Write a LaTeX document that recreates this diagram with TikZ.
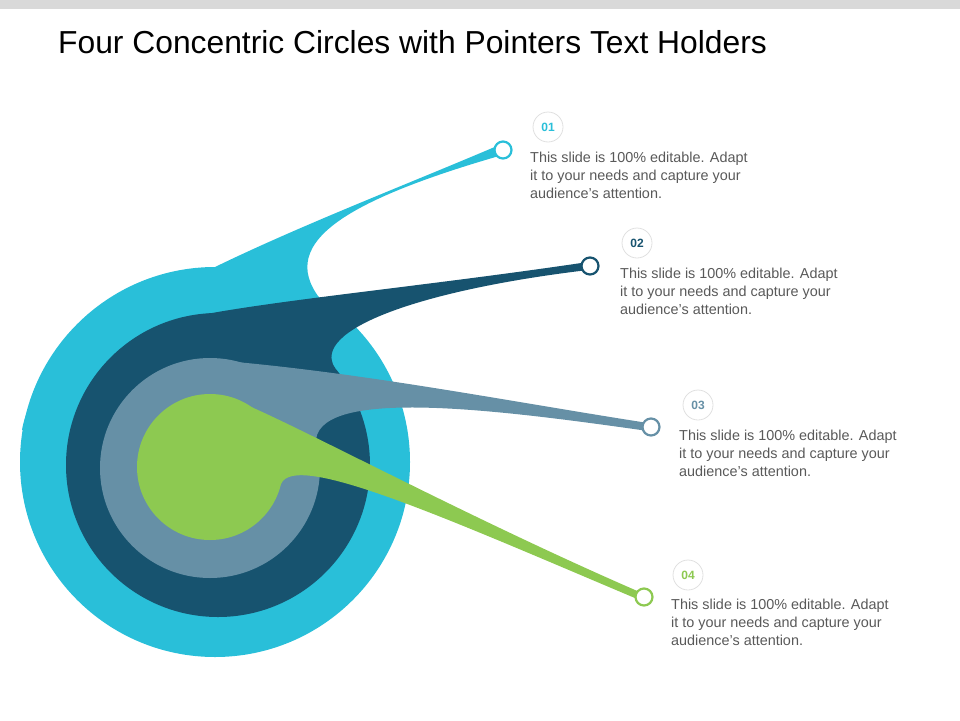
\documentclass[tikz,border=0pt]{standalone}
\usepackage{fontspec}
\setmainfont{Liberation Sans}
\definecolor{cyanA}{HTML}{29BFD9}
\definecolor{navyB}{HTML}{17536F}
\definecolor{slateC}{HTML}{6690A6}
\definecolor{greenD}{HTML}{8DC951}
\definecolor{txtgray}{HTML}{595959}
\tikzset{
  tipdot/.style={circle, draw=#1, line width=2.2pt, fill=white, inner sep=0pt, minimum size=17pt},
  numbadge/.style={circle, draw=black!12, line width=0.8pt, fill=white, inner sep=0pt, minimum size=30pt,
    text=#1, font=\fontsize{12}{12}\selectfont\bfseries},
  blurb/.style={anchor=north west, align=left, text=txtgray, inner sep=0pt,
    font=\fontsize{14.4}{18}\selectfont}
}
\begin{document}
\begin{tikzpicture}[x=1pt,y=-1pt]
        \useasboundingbox (0,0) rectangle (960,720);
        % Barra superior y titulo
        \fill[black!15] (0,0) rectangle (960,9);
        \node[anchor=west, inner sep=0pt, font=\fontsize{31.8}{32}\selectfont] (title) at (58,42)
          {Four Concentric Circles with Pointers Text Holders};

        % Circulo exterior
        \fill[cyanA] (215,462) circle (195);
        \fill[cyanA] (22,430) .. controls (40,320) and (300,230) .. (497,146)
          -- (499,156) .. controls (330,205) and (270,250) .. (330,310) -- (360,340) -- (215,462) -- cycle;

        % Circulo 2
        \fill[navyB] (218,465) circle (152);
        \fill[navyB] (160,325) .. controls (220,305) and (400,290) .. (588,262)
          -- (588,270) .. controls (420,290) and (310,330) .. (335,368) -- (218,465) -- cycle;

        % Circulo 3
        \fill[slateC] (210,468) circle (110);
        \fill[slateC] (200,359) .. controls (350,370) and (500,400) .. (648,423)
          -- (648,431) .. controls (500,410) and (310,385) .. (316,445) -- (210,468) -- cycle;

        % Circulo 4
        \fill[greenD] (210,467) circle (73);
        \fill[greenD] (225,397) .. controls (260,405) and (450,510) .. (642,593)
          -- (642,601) .. controls (450,520) and (295,450) .. (281,484) -- (210,467) -- cycle;

        % Puntos finales
        \node[tipdot=cyanA] (p1) at (503,150) {};
        \node[tipdot=navyB] (p2) at (590,266) {};
        \node[tipdot=slateC] (p3) at (651,427) {};
        \node[tipdot=greenD] (p4) at (644,597) {};

        % Numeros
        \node[numbadge=cyanA] (n1) at (548,127) {01};
        \node[numbadge=navyB] (n2) at (637,243) {02};
        \node[numbadge=slateC] (n3) at (698,405) {03};
        \node[numbadge=greenD] (n4) at (688,575) {04};

        % Textos
        \node[blurb] (t1) at (530,152) {This slide is 100\% editable. Adapt\\it to your needs and capture your\\audience's attention.};
        \node[blurb] (t2) at (620,268) {This slide is 100\% editable. Adapt\\it to your needs and capture your\\audience's attention.};
        \node[blurb] (t3) at (679,430) {This slide is 100\% editable. Adapt\\it to your needs and capture your\\audience's attention.};
        \node[blurb] (t4) at (671,599) {This slide is 100\% editable. Adapt\\it to your needs and capture your\\audience's attention.};
    \end{tikzpicture}
\end{document}
